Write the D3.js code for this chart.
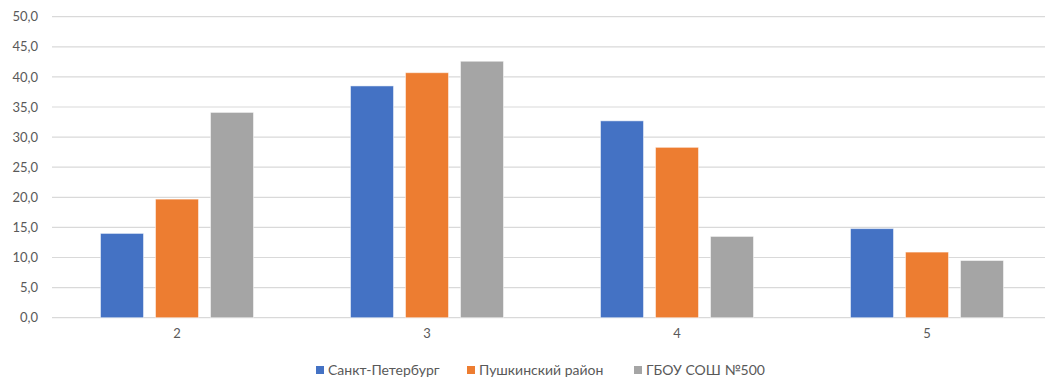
<!DOCTYPE html>
<html><head><meta charset="utf-8">
<script src="https://cdn.jsdelivr.net/npm/d3@7"></script>
<style>body{margin:0;background:#fff}svg{display:block}text{font-family:Lato,"Open Sans",sans-serif;fill:#595959}</style>
</head><body><svg id="c" width="1045" height="391"></svg>
<script>
const categories = ["2","3","4","5"];
const seriesNames = ["Санкт-Петербург","Пушкинский район","ГБОУ СОШ №500"];
const spb = [14.0, 38.5, 32.7, 14.8];
const pushkin = [19.7, 40.7, 28.3, 10.9];
const school = [34.1, 42.6, 13.5, 9.5];
const yTicks = [0,5,10,15,20,25,30,35,40,45,50];
const colors = ["#4472C4","#ED7D31","#A5A5A5"];
const series = [spb, pushkin, school];

const svg = d3.select("#c");
const x0 = d3.scaleBand().domain(categories).range([52,1052]).paddingInner(0.388).paddingOuter(0.194);
const x1 = d3.scaleBand().domain(d3.range(3)).range([0, x0.bandwidth()]).paddingInner(0.218).paddingOuter(0);
const y = d3.scaleLinear().domain([0,50]).range([317.7,16.7]);
const fmt = v => d3.format(".1f")(v).replace(".", ",");

svg.append("g").selectAll("line").data(yTicks).join("line")
  .attr("x1",52).attr("x2",1045).attr("y1",d=>y(d)).attr("y2",d=>y(d))
  .attr("stroke","#D9D9D9").attr("stroke-width",1.2);

const yAxis = d3.axisLeft(y).tickValues(yTicks).tickFormat(fmt).tickSize(0).tickPadding(0);
const ga = svg.append("g").attr("transform","translate(38,0)").call(yAxis);
ga.select(".domain").remove();
ga.selectAll("text").attr("font-size",13).attr("fill","#595959").style("font-family","Lato,'Open Sans',sans-serif");

categories.forEach((c,i)=>{
  series.forEach((s,j)=>{
    svg.append("rect")
      .attr("x", x0(c)+x1(j)).attr("width", x1.bandwidth())
      .attr("y", y(s[i])).attr("height", y(0)-y(s[i]))
      .attr("fill", colors[j]).attr("stroke","#fff").attr("stroke-opacity",0.5).attr("stroke-width",1);
  });
});

const xAxis = d3.axisBottom(x0).tickSize(0).tickPadding(0);
const gx = svg.append("g").attr("transform","translate(0,329)").call(xAxis);
gx.select(".domain").remove();
gx.selectAll("text").attr("font-size",13).attr("fill","#595959").style("font-family","Lato,'Open Sans',sans-serif");

const legX = [316, 467, 634];
const lg = svg.append("g");
seriesNames.forEach((n,j)=>{
  lg.append("rect").attr("x",legX[j]).attr("y",366).attr("width",8).attr("height",8).attr("fill",colors[j]);
  lg.append("text").attr("x",legX[j]+12).attr("y",375).attr("font-size",14).text(n);
});
</script></body></html>
